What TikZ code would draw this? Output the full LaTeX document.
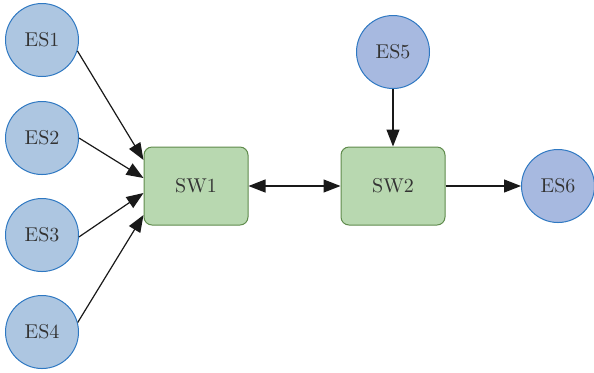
\documentclass[tikz,border=0pt]{standalone}
\usetikzlibrary{arrows.meta,calc}
\definecolor{esfill}{HTML}{ADC6E1}
\definecolor{esfillb}{HTML}{A7B9E0}
\definecolor{esdraw}{HTML}{2E78C2}
\definecolor{swfill}{HTML}{B8D8B0}
\definecolor{swdraw}{HTML}{5F8B4C}
\definecolor{txt}{HTML}{333333}
\tikzset{
  esnode/.style={circle,draw=esdraw,fill=esfill,line width=0.5pt,minimum size=36.5pt,inner sep=0pt,text=txt},
  esnodeb/.style={esnode,fill=esfillb},
  swnode/.style={rectangle,rounded corners=4pt,draw=swdraw,fill=swfill,line width=0.5pt,minimum width=52pt,minimum height=39pt,inner sep=0pt,text=txt},
  conn/.style={line width=0.6pt,draw=black!90,-{Triangle[length=8.5pt,width=6.5pt]}},
  conn2/.style={line width=0.6pt,draw=black!90,{Triangle[length=8.5pt,width=6.5pt]}-{Triangle[length=8.5pt,width=6.5pt]}}
}
\begin{document}
\begin{tikzpicture}[x=0.5pt,y=-0.5pt]
\useasboundingbox (0,0) rectangle (594,372);
\node[esnode] (ES1) at (42,40) {ES1};
\node[esnode] (ES2) at (42,138) {ES2};
\node[esnode] (ES3) at (42,235) {ES3};
\node[esnode] (ES4) at (42,332) {ES4};
\node[esnodeb] (ES5) at (393,52) {ES5};
\node[esnodeb] (ES6) at (558,186) {ES6};
\node[swnode] (SW1) at (196,186) {SW1};
\node[swnode] (SW2) at (393,186) {SW2};
\coordinate (t1) at ($(SW1.west)+(0,-26)$);
\coordinate (t2) at ($(SW1.west)+(0,-8)$);
\coordinate (t3) at ($(SW1.west)+(0,7)$);
\coordinate (t4) at ($(SW1.west)+(0,29)$);
\draw[conn] (ES1.-17) -- (t1);
\draw[conn] (ES2.east) -- (t2);
\draw[conn] (ES3.-3) -- (t3);
\draw[conn] (ES4.15) -- (t4);
\draw[conn2] (SW1.east) -- (SW2.west);
\draw[conn] (ES5.south) -- (SW2.north);
\draw[conn] (SW2.east) -- (ES6.west);
\end{tikzpicture}
\end{document}
